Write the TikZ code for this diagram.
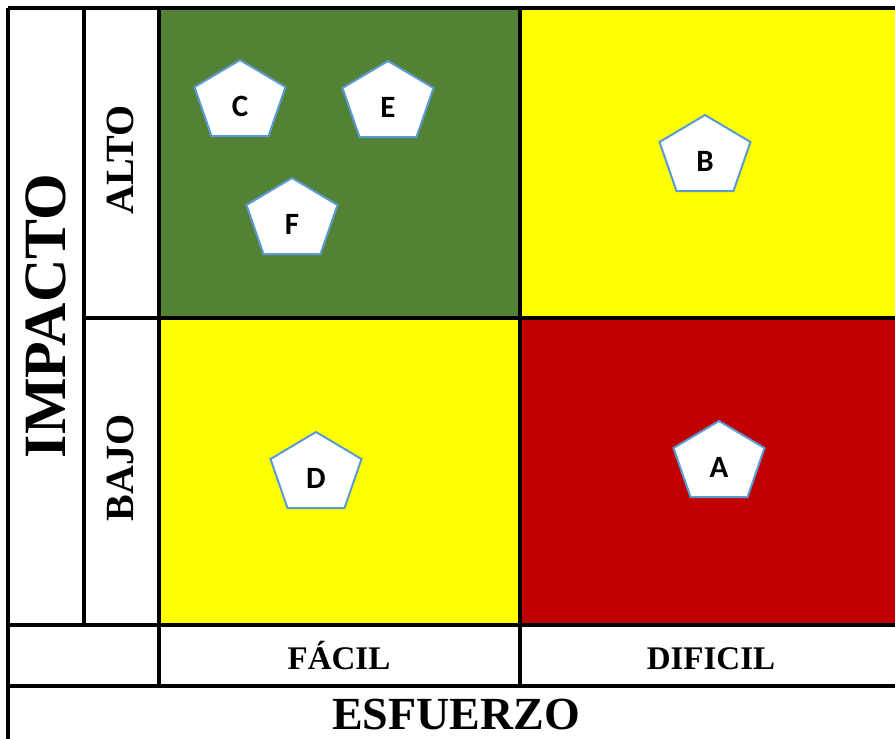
\documentclass[tikz,border=0pt]{standalone}
\usepackage{fontspec}
\setmainfont{Liberation Serif}
\newfontfamily\calibri{Carlito}
\usepackage{tikz}

\definecolor{verde}{HTML}{548235}
\definecolor{amarillo}{HTML}{FFFF00}
\definecolor{rojo}{HTML}{C00000}
\definecolor{azul}{HTML}{5B9BD5}

% pentagon: name, x, top y, letter
\newcommand{\penta}[4]{%
 \draw[penta] (#2,#3) -- ++(45.5,27) -- ++(-17,49) -- ++(-57,0) -- ++(-17,-49) -- cycle;
 \node[letra] (#1) at (#2,#3+46) {#4};}

\begin{document}
\begin{tikzpicture}[x=1pt, y=-1pt]
\tikzset{penta/.style={draw=azul, fill=white, line width=2pt, line join=miter},
 letra/.style={font=\calibri\bfseries\fontsize{31}{31}\selectfont},
 rotulo/.style={font=\bfseries\fontsize{#1}{#1}\selectfont},
 rejilla/.style={line width=3.5pt}}
\useasboundingbox (0,0) rectangle (895,739);
\fill[white] (0,0) rectangle (895,739);
% cells
\fill[verde] (159,8) rectangle (520,318);
\fill[amarillo] (520,8) rectangle (895,318);
\fill[amarillo] (159,318) rectangle (520,625);
\fill[rojo] (520,318) rectangle (895,625);
% grid
\draw[rejilla] (8,8) -- (895,8);
\draw[rejilla] (8,8) -- (8,739);
\draw[rejilla] (84,8) -- (84,625);
\draw[rejilla] (159,8) -- (159,686);
\draw[rejilla] (520,8) -- (520,686);
\draw[rejilla] (84,318) -- (895,318);
\draw[rejilla] (8,625) -- (895,625);
\draw[rejilla] (8,686) -- (895,686);
% labels
\node[rotulo=60, rotate=90] (impacto) at (46,316) {IMPACTO};
\node[rotulo=40, rotate=90] (alto) at (120,160) {ALTO};
\node[rotulo=40, rotate=90] (bajo) at (120,468) {BAJO};
\node[rotulo=33, anchor=base] (facil) at (339,669) {FÁCIL};
\node[rotulo=33, anchor=base] (dificil) at (711,669) {DIFICIL};
\node[rotulo=46, anchor=base, inner sep=0pt] (esfuerzo) at (456,729) {ESFUERZO};
% items
\penta{c}{240}{60}{C}
\penta{e}{388}{61}{E}
\penta{f}{292}{178}{F}
\penta{b}{705}{115}{B}
\penta{d}{316}{432}{D}
\penta{a}{719}{421}{A}
\end{tikzpicture}
\end{document}
